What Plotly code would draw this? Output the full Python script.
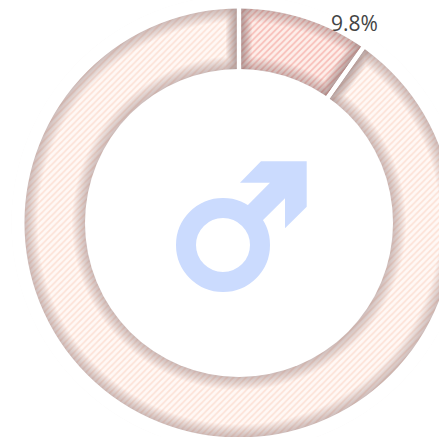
import plotly.graph_objects as go

categories = ["Male share", "Rest"]
values = [9.8, 90.2]
label_text = "9.8%"

W, H = 478, 446
CX, CY = 239, 223
R_OUT, R_IN = 214.5, 154
ICON = "#cbdbfe"


def dom(r):
    return dict(x=[0.5 - r / W, 0.5 + r / W], y=[0.5 - r / H, 0.5 + r / H])


def px(x):
    return x / W


def py(y):
    return 1 - y / H


def ring(r, hole, **kw):
    return go.Pie(labels=categories, values=values, sort=False, direction="clockwise", rotation=0,
                  domain=dom(r), hole=hole, textinfo="none", hoverinfo="skip", showlegend=False, **kw)


traces = [
    ring(R_OUT, R_IN / R_OUT, marker=dict(
        colors=["#fdeeea", "#fff8f5"],
        line=dict(width=0),
        pattern=dict(shape="/", size=4.5, solidity=0.36, fgcolor=["#f28a80", "#fac9b6"],
                     bgcolor=["#fdeeea", "#fff8f5"], fillmode="overlay"),
    ))
]
for w in [2, 4, 6, 8, 10, 12, 14, 16, 18, 20, 22, 24, 26]:
    traces.append(ring(R_OUT, R_IN / R_OUT, marker=dict(
        colors=["rgba(0,0,0,0)", "rgba(0,0,0,0)"],
        line=dict(width=w, color="rgba(115,105,100,0.03)"))))
# masks: white around the ring, in the hole, and the gaps between slices
traces.append(go.Pie(values=[1], domain=dom(223), hole=(R_OUT + 4.5) / 223, sort=False, textinfo="none",
                     hoverinfo="skip", showlegend=False, marker=dict(colors=["#ffffff"], line=dict(width=9, color="#ffffff"))))
traces.append(go.Pie(values=[1], domain=dom(R_IN), sort=False, textinfo="none",
                     hoverinfo="skip", showlegend=False, marker=dict(colors=["#ffffff"], line=dict(width=0))))
traces.append(ring(R_OUT + 3, (R_IN - 3) / (R_OUT + 3), marker=dict(
    colors=["rgba(0,0,0,0)", "rgba(0,0,0,0)"], line=dict(width=4.2, color="#ffffff"))))

fig = go.Figure(traces)

arrow = [(261, 161.3), (306.7, 161.3), (306.7, 206.7), (285, 228.3), (285, 198.3),
         (258, 225), (243, 210), (270, 182.7), (240, 182.7)]
path = "M" + " L".join(f"{px(x):.5f},{py(y):.5f}" for x, y in arrow) + " Z"

fig.update_layout(
    width=W, height=H, autosize=False,
    margin=dict(l=0, r=0, t=0, b=0),
    paper_bgcolor="#ffffff",
    shapes=[
        dict(type="path", xref="paper", yref="paper", path=path, fillcolor=ICON, line=dict(width=0)),
        dict(type="circle", xref="paper", yref="paper",
             x0=px(223 - 37), x1=px(223 + 37), y0=py(245 + 37), y1=py(245 - 37),
             line=dict(color=ICON, width=20), fillcolor="rgba(0,0,0,0)"),
    ],
    annotations=[dict(text=label_text, xref="paper", yref="paper", x=px(354), y=py(23),
                      xanchor="center", yanchor="middle", showarrow=False,
                      font=dict(family="Open Sans", size=21, color="#444444"))],
)

fig.write_html("out.html", config=dict(displayModeBar=False, responsive=False),
               post_script="document.documentElement.style.overflow='hidden';"
                           "document.body.style.overflow='hidden';document.body.style.margin='0';")
